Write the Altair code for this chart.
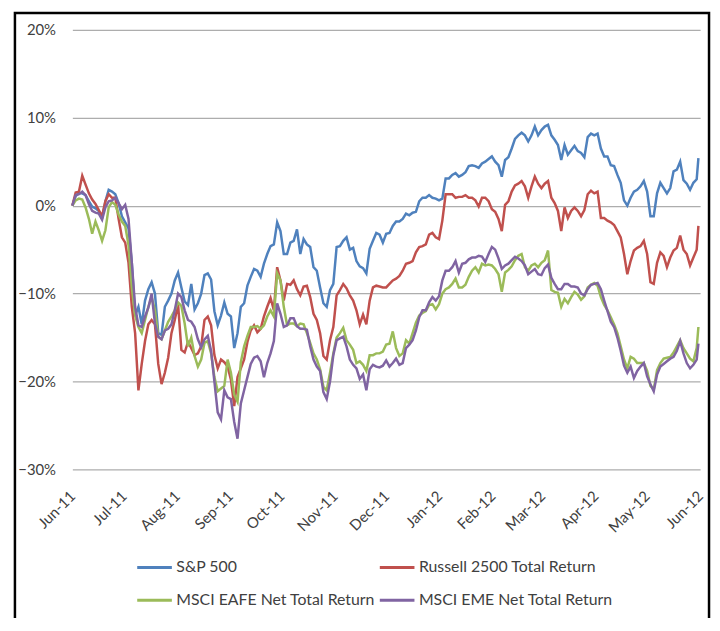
import altair as alt
import pandas as pd

SERIES = ["S&P 500", "Russell 2500 Total Return",
          "MSCI EAFE Net Total Return", "MSCI EME Net Total Return"]
COLORS = ["#4F81BD", "#C0504D", "#9BBB59", "#8064A2"]

# tick months (year, month) -> labels "Jun-11" ... "Jun-12"
TICK_MONTHS = [(2011, 6), (2011, 7), (2011, 8), (2011, 9), (2011, 10), (2011, 11),
               (2011, 12), (2012, 1), (2012, 2), (2012, 3), (2012, 4), (2012, 5), (2012, 6)]
Y_TICKS = [-0.3, -0.2, -0.1, 0.0, 0.1, 0.2]

# cumulative return, percent
sp500 = [
    0, 1.1, 1.4, 1.4, 1.2, 0.5, -0.1, -0.3, -0.6, -1.4, 0.5, 1.8, 1.6, 1.3, 0.3, -1.2, -1.9, -2.6, -6.5, -12.5, -11.5, -13.5, -10.8, -9.5,
    -8.7, -10, -14.5, -14.7, -11.5, -10.8, -10, -8.5, -7.6, -9.3, -10.9, -11.3, -8.9, -11.8, -11.1, -10, -7.9, -7.7, -8.4, -12, -13.6, -12.5, -11, -12.3,
    -12.6, -16.2, -14.5, -11.5, -11.1, -9.1, -8.1, -7.2, -7.4, -8.1, -6.6, -5.5, -4.6, -4.4, -1.9, -2.9, -5.5, -5.5, -4.2, -4.0, -2.7, -5.5, -3.8, -4.4,
    -4.7, -7.0, -7.4, -9.3, -11.1, -11.5, -9.6, -8.9, -4.7, -4.6, -4.0, -3.6, -5.0, -4.8, -6.3, -6.9, -7.1, -7.7, -4.9, -4.0, -3.1, -3.3, -4.2, -3.2,
    -3.1, -2.3, -1.8, -1.8, -1.5, -0.9, -1.1, -0.8, -0.7, 0.5, 0.9, 0.9, 1.2, 0.9, 0.8, 0.6, 0.8, 3.1, 3.1, 3.5, 3.7, 3.3, 3.5, 3.8,
    4.5, 4.6, 4.5, 4.3, 4.8, 5.0, 5.3, 5.6, 5.0, 4.6, 3.3, 5.2, 5.5, 6.5, 7.6, 8.0, 8.3, 8.0, 7.3, 8.0, 9.0, 8.0, 8.6, 9.0,
    9.2, 8.0, 7.5, 6.9, 5.2, 6.9, 5.8, 6.3, 6.8, 6.2, 6.0, 5.5, 7.8, 8.2, 8.0, 8.2, 6.5, 5.6, 5.6, 4.6, 4.5, 3.5, 2.6, 0.6,
    0.0, 0.9, 1.6, 1.8, 2.2, 2.8, 1.6, -1.2, -1.2, 1.4, 2.6, 2.0, 1.4, 2.0, 3.9, 4.1, 5.0, 2.9, 2.5, 1.8, 2.6, 3.0, 5.4,
]
russell = [
    0, 1.5, 1.6, 3.4, 2.4, 1.4, 0.7, 0.2, -0.5, -1.2, 0.5, 1.3, 0.9, 0.9, -1.5, -3.6, -4.2, -6.5, -11.5, -14.5, -21.0, -18.0, -15.4, -13.5,
    -13, -13.5, -18.0, -20.3, -19.0, -17.3, -14.5, -13, -11.2, -16.4, -16.7, -15.5, -16.2, -17, -16.8, -16, -13, -12.6, -13.6, -17, -18.5, -17.5, -17.8, -18.3,
    -19.8, -22.8, -19.5, -18.5, -17.5, -15.5, -14.2, -13.6, -14.4, -14, -12.6, -11.5, -10.5, -11.9, -7.0, -8.5, -10.8, -8.9, -9.0, -8.5, -9.5, -10.2, -9.2, -9.1,
    -10.4, -12.3, -13.0, -14.5, -17.1, -17.5, -15.3, -13.8, -10.2, -9.6, -8.9, -9.4, -10.2, -10.8, -11.9, -13.5, -12.4, -13.5, -10.8, -9.3, -9.1, -9.2, -9.3, -9.3,
    -8.9, -8.5, -8.3, -8.0, -7.4, -6.6, -6.5, -6.3, -5.3, -4.7, -4.6, -4.4, -3.3, -3.1, -3.6, -3.8, -1.7, 1.3, 1.3, 1.3, 0.9, 1.0, 1.0, 1.2,
    0.9, 0.9, 0.6, -0.1, 0.9, 0.9, 0.5, -0.4, -0.7, -1.5, -2.9, 0.1, 0.5, 1.6, 2.3, 2.5, 2.8, 2.2, 0.9, 2.2, 3.3, 2.5, 2.0, 2.5,
    2.8, 0.9, 0.3, -0.6, -2.9, -0.2, -1.4, -0.6, -0.2, -0.6, -1.2, -0.5, 1.3, 1.7, 1.4, 1.6, -1.4, -1.4, -1.7, -1.9, -2.2, -2.9, -3.6, -5.5,
    -7.8, -6.3, -5.1, -4.8, -4.6, -4.0, -5.5, -8.7, -8.9, -6.5, -5.3, -5.7, -7.0, -5.9, -5.1, -4.8, -3.4, -5.0, -5.5, -6.8, -5.9, -5.0, -2.3,
]
eafe = [
    0, 0.6, 0.8, 0.7, -0.2, -1.5, -3.2, -1.8, -2.8, -4.0, -2.8, -0.2, 0.4, 0.1, -1.0, -1.8, -2.3, -4.5, -9.3, -12.5, -13.8, -14.5, -13.0, -11.5,
    -10.4, -11.9, -14.9, -15.2, -14.2, -13.2, -12.6, -11.9, -11, -11.4, -13.4, -16, -15, -17.1, -18.3, -17.5, -15.6, -15.4, -16.8, -19.5, -21.1, -20.8, -20.5, -17.5,
    -19, -21.5, -22.3, -17.8, -16, -14.8, -13.8, -13.8, -13.7, -14, -13.6, -12.6, -11.9, -12.6, -7.7, -8.5, -11.5, -13.6, -13.4, -13.4, -13.7, -13.4, -13.5, -14.5,
    -15.6, -16.8, -17.5, -18.6, -20.6, -21.0, -19.0, -16.8, -15.0, -14.5, -13.9, -15.3, -15.8, -16.4, -17.9, -17.7, -18.1, -18.8, -17.0, -17.0, -16.8, -16.8, -16.6, -15.8,
    -15.7, -14.3, -16.2, -17.1, -16.8, -15.3, -15.7, -14.5, -13.3, -12.5, -12.2, -12.0, -11.3, -11.2, -11.8, -11.2, -10.0, -9.5, -9.3, -8.9, -8.3, -9.3, -9.3, -9.0,
    -8.1, -7.4, -7.0, -7.6, -6.6, -6.8, -6.7, -6.8, -7.2, -7.8, -9.8, -7.6, -7.3, -6.9, -6.2, -5.7, -5.5, -7.0, -7.4, -6.8, -6.6, -7.0, -6.5, -6.2,
    -5.1, -9.6, -9.8, -9.9, -11.5, -10.6, -11.1, -10.4, -9.8, -10.1, -10.7, -10.3, -9.3, -9.0, -8.8, -9.1, -10.4, -11.3, -11.9, -12.7, -13.5, -14.5, -16.0, -17.5,
    -18.5, -17.2, -17.4, -17.9, -17.9, -17.9, -18.8, -20.5, -20.9, -18.7, -17.9, -17.4, -17.3, -17.2, -16.7, -16.0, -15.3, -16.2, -16.8, -17.4, -17.7, -16.2, -13.8,
]
eme = [
    0, 1.2, 1.3, 1.6, 1.2, 0.2, -0.6, -0.8, -0.9, -1.6, -0.2, 0.5, 0.6, 0.9, 0.3, -0.4, 0.1, -1.5, -6.5, -11.5, -13.6, -13.8, -12.6, -11.6,
    -10, -13.4, -14.9, -15.2, -14.2, -14, -13.5, -11.9, -10, -10.4, -11.9, -13, -13.2, -13.8, -15.2, -16.1, -15.2, -14.8, -16.5, -20.0, -23.5, -24.3, -21.0, -21.8,
    -22, -24.6, -26.5, -22.5, -21, -19.5, -18, -17.3, -17.1, -17.7, -19.5, -17.9, -16.8, -15.4, -11.1, -12.3, -13.8, -13.6, -12.8, -12.8, -13.7, -14.0, -14.0, -14.1,
    -16.0, -17.5, -18.3, -18.8, -21.2, -22.0, -20.0, -17.0, -15.3, -15.1, -14.9, -16.0, -17.5, -18.1, -18.5, -19.7, -19.2, -21.0, -18.6, -18.1, -18.3, -18.4, -18.2, -17.6,
    -18.3, -17.9, -17.4, -18.1, -17.9, -16.2, -15.8, -15.3, -14.2, -12.7, -11.9, -11.9, -11.0, -10.4, -10.8, -10.3, -8.5, -7.4, -7.4, -7.0, -6.3, -7.6, -6.6, -6.5,
    -6.1, -5.9, -5.9, -5.7, -5.8, -6.4, -5.5, -4.7, -5.0, -6.0, -7.2, -6.8, -6.6, -6.2, -5.8, -6.0, -6.3, -6.8, -7.8, -7.5, -7.2, -7.8, -7.9, -7.1,
    -6.7, -8.2, -8.9, -9.5, -9.5, -8.9, -8.9, -9.2, -9.2, -9.3, -10.0, -10.2, -9.5, -9.0, -8.9, -8.8, -9.5, -10.8, -12.0, -13.2, -13.8, -15.0, -16.5, -18.2,
    -19.0, -18.3, -19.6, -18.8, -18.3, -17.9, -19.4, -20.3, -21.1, -19.2, -18.3, -18.0, -17.7, -17.4, -17.2, -16.5, -15.4, -16.8, -17.9, -18.5, -18.1, -17.5, -15.7,
]

n = len(sp500)
dates = list(pd.date_range("2011-06-01", "2012-05-30", periods=n - 1)) + [pd.Timestamp("2012-05-31")]
date_str = [d.strftime("%Y-%m-%dT%H:%M:%S") for d in dates]

rows = []
for name, vals in zip(SERIES, [sp500, russell, eafe, eme]):
    for d, v in zip(date_str, vals):
        rows.append({"series": name, "date": d, "value": v / 100.0})
df = pd.DataFrame(rows)

tick_values = [alt.DateTime(year=y, month=m, date=1) for y, m in TICK_MONTHS]

lines = alt.Chart(df).mark_line(strokeWidth=2.5).encode(
    x=alt.X("date:T",
            scale=alt.Scale(domain=[tick_values[0], tick_values[-1]]),
            axis=alt.Axis(values=tick_values, format="%b-%y", labelAngle=315,
                          labelAlign="right", labelBaseline="middle", labelPadding=24,
                          grid=False, domain=False, ticks=False),
            title=None),
    y=alt.Y("value:Q",
            scale=alt.Scale(domain=[-0.3, 0.2], nice=False, zero=False),
            axis=alt.Axis(values=Y_TICKS, format=".0%", grid=True, domain=False,
                          ticks=False, labelPadding=17),
            title=None),
    color=alt.Color("series:N",
                    scale=alt.Scale(domain=SERIES, range=COLORS),
                    legend=alt.Legend(title=None, orient="none", legendX=64, legendY=524,
                                      direction="horizontal",
                                      columns=2, symbolType="stroke", symbolSize=1225,
                                      symbolStrokeWidth=3, labelFont="Lato",
                                      labelFontSize=16, labelColor="#404040",
                                      labelOffset=3, columnPadding=-2, rowPadding=6,
                                      padding=0, labelLimit=400)),
)

frame = alt.Chart(alt.Data(values=[{}])).mark_rect(
    fill="transparent", stroke="black", strokeWidth=2.5
).encode(x=alt.value(-58), x2=alt.value(643), y=alt.value(-17), y2=alt.value(700))

chart = alt.layer(lines, frame).properties(
    width=634, height=444,
    autosize=alt.AutoSizeParams(type="none"),
    padding={"left": 65, "top": 19, "right": 12, "bottom": 147},
).configure_axis(
    labelFont="Lato", labelFontSize=15, labelColor="#404040",
    gridColor="#ADADAD", gridWidth=1.2,
).configure_view(strokeWidth=0)

chart.save("out.html", embed_options={"renderer": "svg", "actions": False})
